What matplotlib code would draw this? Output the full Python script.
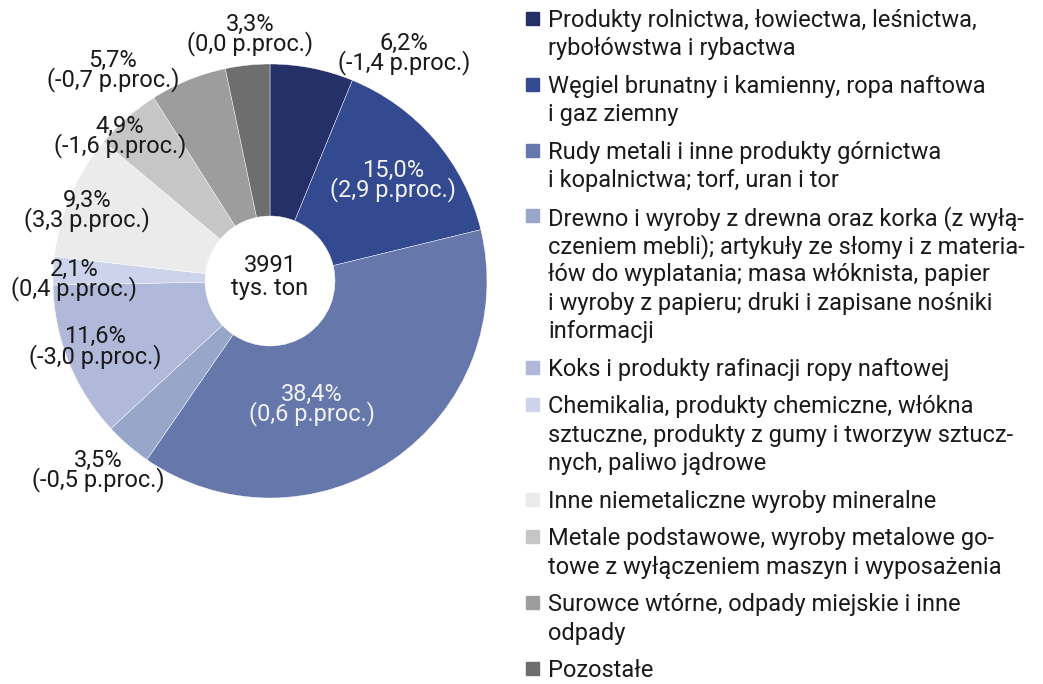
import matplotlib.pyplot as plt
import numpy as np

plt.rcParams['font.family'] = ['Roboto', 'DejaVu Sans']

# data
shares = [6.2, 15.0, 38.4, 3.5, 11.6, 2.1, 9.3, 4.9, 5.7, 3.3]
changes = ["-1,4", "2,9", "0,6", "-0,5", "-3,0", "0,4", "3,3", "-1,6", "-0,7", "0,0"]
colors = ["#263068", "#334a91", "#6577ab", "#98a6c9", "#b1b9db",
          "#cdd3ea", "#ebebeb", "#c6c6c6", "#9d9d9d", "#6e6e6e"]
legend_lines = [
    ["Produkty rolnictwa, łowiectwa, leśnictwa,", "rybołówstwa i rybactwa"],
    ["Węgiel brunatny i kamienny, ropa naftowa", "i gaz ziemny"],
    ["Rudy metali i inne produkty górnictwa", "i kopalnictwa; torf, uran i tor"],
    ["Drewno i wyroby z drewna oraz korka (z wyłą-", "czeniem mebli); artykuły ze słomy i z materia-",
     "łów do wyplatania; masa włóknista, papier", "i wyroby z papieru; druki i zapisane nośniki", "informacji"],
    ["Koks i produkty rafinacji ropy naftowej"],
    ["Chemikalia, produkty chemiczne, włókna", "sztuczne, produkty z gumy i tworzyw sztucz-",
     "nych, paliwo jądrowe"],
    ["Inne niemetaliczne wyroby mineralne"],
    ["Metale podstawowe, wyroby metalowe go-", "towe z wyłączeniem maszyn i wyposażenia"],
    ["Surowce wtórne, odpady miejskie i inne", "odpady"],
    ["Pozostałe"],
]
total = "3991"

# label placement (pie radius = 1)
label_pos = [(0.617, 1.05), (0.567, 0.465), (0.194, -0.571), (-0.793, -0.875),
             (-0.806, -0.304), (-0.903, 0.005), (-0.843, 0.327), (-0.691, 0.664),
             (-0.724, 0.972), (-0.092, 1.135)]
white_lbl = [1, 2]

W, H = 1043, 684
fig = plt.figure(figsize=(W / 100, H / 100), dpi=100)
cx, cy, R = 270, 281, 217
ax = fig.add_axes([(cx - R) / W, (H - cy - R) / H, 2 * R / W, 2 * R / H])
ax.pie(shares, colors=colors, startangle=90, counterclock=False, radius=1,
       wedgeprops=dict(width=1 - 65 / 217, edgecolor='white', linewidth=0.3))
ax.set_xlim(-1, 1)
ax.set_ylim(-1, 1)
ax.set_aspect('auto')
ax.axis('off')

fs = 17
for i, (s, c) in enumerate(zip(shares, changes)):
    x, y = label_pos[i]
    col = '#f2f2f2' if i in white_lbl else '#1a1a1a'
    txt = f"{s:.1f}%".replace('.', ',') + f"\n({c} p.proc.)"
    ax.text(x, y, txt, ha='center', va='center', fontsize=fs, color=col,
            linespacing=0.75, clip_on=False)

ax.text(0, 0.02, f"{total}\ntys. ton", ha='center', va='center', fontsize=fs,
        color='#1a1a1a', linespacing=1.0)

# legend drawn by hand
line_h = 28.4
gap = 9.2
y = 17.5
for lines, col in zip(legend_lines, colors):
    fig.patches.append(plt.Rectangle((526 / W, 1 - (y + 7) / H), 13 / W, 13 / H,
                                     transform=fig.transFigure, color=col))
    for k, ln in enumerate(lines):
        fig.text(548 / W, 1 - (y + k * line_h) / H, ln, ha='left', va='center_baseline',
                 fontsize=fs, color='#1a1a1a')
    y += len(lines) * line_h + gap

plt.savefig('out.png', dpi=100)
